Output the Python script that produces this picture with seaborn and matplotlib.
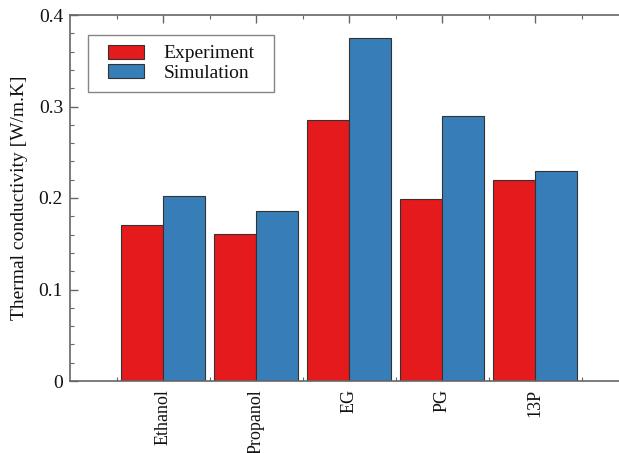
import numpy as np
import pandas as pd
import matplotlib
matplotlib.use("Agg")
import matplotlib.pyplot as plt
import matplotlib.patches as mpatches
from matplotlib.legend_handler import HandlerPatch
import seaborn as sns
from matplotlib.ticker import MultipleLocator, FixedLocator

categories = ["Ethanol", "Propanol", "EG", "PG", "13P"]
experiment = [0.171, 0.161, 0.285, 0.199, 0.220]
simulation = [0.202, 0.186, 0.375, 0.290, 0.230]
series = ["Experiment", "Simulation"]
colors = ["#e41a1c", "#377eb8"]

df = pd.DataFrame({
    "cat": categories * 2,
    "val": experiment + simulation,
    "series": [series[0]] * len(categories) + [series[1]] * len(categories),
})

sns.set_style("ticks")
plt.rcParams["font.family"] = ["Liberation Serif", "DejaVu Serif"]

fig = plt.figure(figsize=(6.19, 4.53), dpi=100)
ax = fig.add_axes([70 / 619, 1 - 381 / 453, 558 / 619, 366 / 453])

sns.barplot(data=df, x="cat", y="val", hue="series", palette=colors,
            width=0.9, gap=0, edgecolor="#333333", linewidth=0.8,
            saturation=1, ax=ax)

ax.set_xlim(-1, 5)
ax.set_ylim(0, 0.4)
ax.set_xlabel("")
ax.set_ylabel("Thermal conductivity [W/m.K]", fontsize=14, color="#111111",
              labelpad=8)

ax.yaxis.set_major_locator(MultipleLocator(0.1))
ax.yaxis.set_minor_locator(MultipleLocator(0.02))
ax.set_yticks([0, 0.1, 0.2, 0.3, 0.4])
ax.set_yticklabels(["0", "0.1", "0.2", "0.3", "0.4"], fontsize=14,
                   color="#111111")

ax.set_xticks(range(len(categories)))
ax.set_xticklabels(categories, rotation=90, fontsize=13, color="#111111")
ax.xaxis.set_minor_locator(FixedLocator(np.arange(-0.5, 5.0, 1.0)))

for sp in ["left", "top", "bottom"]:
    ax.spines[sp].set_visible(True)
    ax.spines[sp].set_color("#666666")
    ax.spines[sp].set_linewidth(1.2)
ax.spines["right"].set_visible(False)

ax.tick_params(axis="both", which="major", direction="in", length=6,
               width=1, color="#666666", top=True, right=False)
ax.tick_params(axis="both", which="minor", direction="in", length=3,
               width=0.8, color="#666666", top=True, right=False)
ax.tick_params(axis="x", which="major", pad=6)
ax.tick_params(axis="y", which="major", pad=5)


def inset_patch(legend, orig_handle, xdescent, ydescent, width, height,
                fontsize):
    off = width * 0.22
    return mpatches.Rectangle((-xdescent + off, -ydescent), width - off,
                              height)


handles, labels = ax.get_legend_handles_labels()
leg = ax.legend(handles, labels,
                loc="upper left",
                bbox_to_anchor=(18 / 558, 0, 186 / 558, 1 - 20 / 366),
                mode="expand",
                frameon=True, fancybox=False, edgecolor="#666666",
                fontsize=14, handlelength=2.4, handleheight=0.72,
                borderpad=0.5, handletextpad=1.0, labelspacing=0.1,
                borderaxespad=0,
                handler_map={mpatches.Rectangle: HandlerPatch(patch_func=inset_patch)})
leg.get_frame().set_linewidth(1.0)
for t in leg.get_texts():
    t.set_color("#111111")

fig.savefig("out.png", dpi=100)
